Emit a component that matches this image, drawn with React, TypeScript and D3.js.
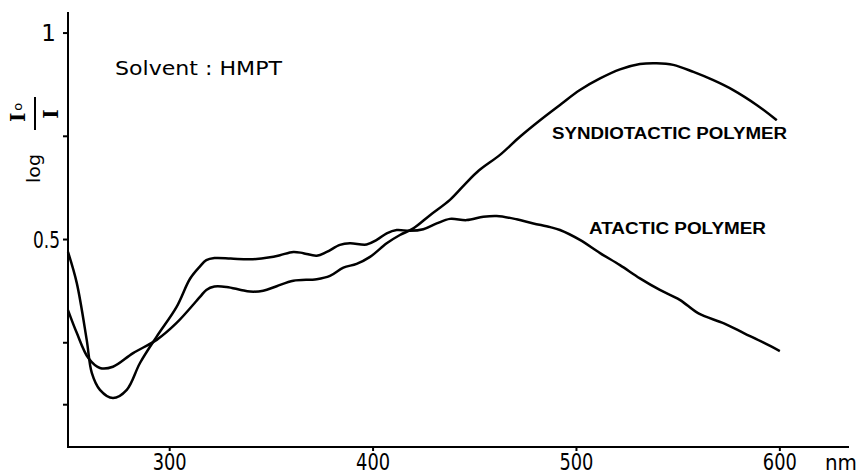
import React from "react";
import * as d3 from "d3";

// Absorption spectra in HMPT, wavelength (nm) vs log(I0/I)
const atactic: [number, number][] = [
  [250, 0.47], [254.3, 0.395], [259.2, 0.257], [261.7, 0.177], [265.7, 0.136],
  [272.1, 0.116], [278.9, 0.136], [285.4, 0.201], [293.6, 0.265], [303.4, 0.337],
  [310, 0.405], [314.9, 0.435], [318, 0.45], [322, 0.455], [330, 0.454],
  [339.5, 0.452], [349.3, 0.457], [354.2, 0.462], [360.8, 0.47], [365.7, 0.467],
  [372.3, 0.461], [377.2, 0.47], [383.7, 0.487], [388.6, 0.491], [396.8, 0.488],
  [401.8, 0.499], [406.7, 0.515], [411.6, 0.523], [418.1, 0.521], [424.7, 0.525],
  [431.3, 0.539], [437.8, 0.55], [446, 0.547], [454.2, 0.555], [460.8, 0.557],
  [470.6, 0.549], [478.8, 0.539], [487.1, 0.53], [491.9, 0.523], [501.7, 0.499],
  [511.6, 0.467], [521.4, 0.438], [531.2, 0.406], [541, 0.378], [550.8, 0.354],
  [560, 0.321], [572.5, 0.297], [582.5, 0.273], [592.5, 0.249], [600, 0.23],
];

const syndiotactic: [number, number][] = [
  [250, 0.329], [254.3, 0.274], [260, 0.213], [265.7, 0.189], [272.1, 0.192],
  [282, 0.225], [293.6, 0.257], [303.4, 0.298], [314.9, 0.361], [318, 0.378],
  [322, 0.386], [328, 0.385], [335, 0.378], [339.5, 0.374], [346, 0.376],
  [352.6, 0.387], [360.8, 0.4], [372.3, 0.404], [378.8, 0.412], [385.4, 0.432],
  [391.9, 0.441], [398.5, 0.458], [406.7, 0.491], [413.2, 0.511], [419.8, 0.527],
  [428, 0.559], [437.8, 0.596], [445, 0.633], [452, 0.667], [462.4, 0.705],
  [472.2, 0.749], [482.1, 0.789], [491.9, 0.826], [501.7, 0.862], [511.6, 0.89],
  [521.4, 0.912], [531.2, 0.925], [539.4, 0.927], [547.6, 0.923], [557.5, 0.906],
  [567.3, 0.886], [577.1, 0.862], [588.6, 0.826], [598.5, 0.789],
];

const wavelengthTicks = [300, 400, 500, 600];
const absorbanceTicks = [0.1, 0.25, 0.5, 0.75, 1];
const absorbanceLabels = [0.5, 1];

const W = 858;
const H = 474;
const FONT = "'DejaVu Sans', sans-serif";
const BOLD = "'Liberation Sans', Arial, sans-serif";
const SERIF = "'DejaVu Serif', serif";

export default function App() {
  const x = d3.scaleLinear().domain([250, 634]).range([68, 849]);
  const y = d3.scaleLinear().domain([0, 1.051]).range([446, 12]);

  const line = d3
    .line<[number, number]>()
    .x((d) => x(d[0]))
    .y((d) => y(d[1]))
    .curve(d3.curveCatmullRom.alpha(0.5));

  const [x0, x1] = x.range();
  const [yBottom, yTop] = y.range();

  return (
    <svg
      width={W}
      height={H}
      viewBox={`0 0 ${W} ${H}`}
      style={{ position: "absolute", left: 0, top: 0, background: "#fff" }}
    >
      <rect width={W} height={H} fill="#fff" />

      {/* axes */}
      <line x1={x0} x2={x0} y1={yTop} y2={yBottom + 1} stroke="#000" strokeWidth={2} />
      <line x1={x0 - 1} x2={x1} y1={yBottom + 1} y2={yBottom + 1} stroke="#000" strokeWidth={2} />

      {absorbanceTicks.map((v) => (
        <line key={v} x1={x0 - 5} x2={x0} y1={y(v)} y2={y(v)} stroke="#000" strokeWidth={2} />
      ))}
      {absorbanceLabels.map((v) => {
        const label = String(v);
        const single = label.length === 1;
        return (
          <text
            key={v}
            x={single ? 56 : 60}
            y={y(v) + 8}
            textAnchor="end"
            fontFamily={FONT}
            fontSize={23}
            textLength={single ? undefined : 27}
            lengthAdjust="spacingAndGlyphs"
            fill="#000"
          >
            {label}
          </text>
        );
      })}

      {wavelengthTicks.map((t) => (
        <g key={t}>
          <line x1={x(t)} x2={x(t)} y1={yBottom + 1} y2={yBottom + 5} stroke="#000" strokeWidth={2} />
          <text
            x={x(t)}
            y={470}
            textAnchor="middle"
            fontFamily={FONT}
            fontSize={23}
            textLength={34}
            lengthAdjust="spacingAndGlyphs"
            fill="#000"
          >
            {t}
          </text>
        </g>
      ))}
      <text x={825} y={470} fontFamily={FONT} fontSize={21} textLength={32} lengthAdjust="spacingAndGlyphs" fill="#000">
        nm
      </text>

      {/* y-axis title: log I0/I */}
      <g transform="translate(36,140) rotate(-90)" fill="#000">
        <text x={-43} y={4} fontFamily={FONT} fontSize={17} textLength={29} lengthAdjust="spacingAndGlyphs">
          log
        </text>
        <line x1={10} x2={43} y1={-1} y2={-1} stroke="#000" strokeWidth={2} />
        <text x={18} y={-11} fontFamily={SERIF} fontSize={20} fontWeight="bold">
          I
          <tspan fontFamily={FONT} fontWeight="normal" fontSize={13} dx={2} dy={-3}>
            o
          </tspan>
        </text>
        <text x={26} y={22} textAnchor="middle" fontFamily={SERIF} fontSize={20} fontWeight="bold">
          I
        </text>
      </g>

      {/* spectra */}
      <path d={line(atactic) ?? ""} fill="none" stroke="#000" strokeWidth={2.5} strokeLinejoin="round" />
      <path d={line(syndiotactic) ?? ""} fill="none" stroke="#000" strokeWidth={2.5} strokeLinejoin="round" />

      {/* annotations */}
      <text x={115} y={75} fontFamily={FONT} fontSize={19} textLength={167} lengthAdjust="spacingAndGlyphs" fill="#000">
        Solvent : HMPT
      </text>
      <text x={552} y={139} fontFamily={BOLD} fontWeight="bold" fontSize={16} textLength={235} lengthAdjust="spacingAndGlyphs" fill="#000">
        SYNDIOTACTIC POLYMER
      </text>
      <text x={589} y={234} fontFamily={BOLD} fontWeight="bold" fontSize={16} textLength={177} lengthAdjust="spacingAndGlyphs" fill="#000">
        ATACTIC POLYMER
      </text>
    </svg>
  );
}
